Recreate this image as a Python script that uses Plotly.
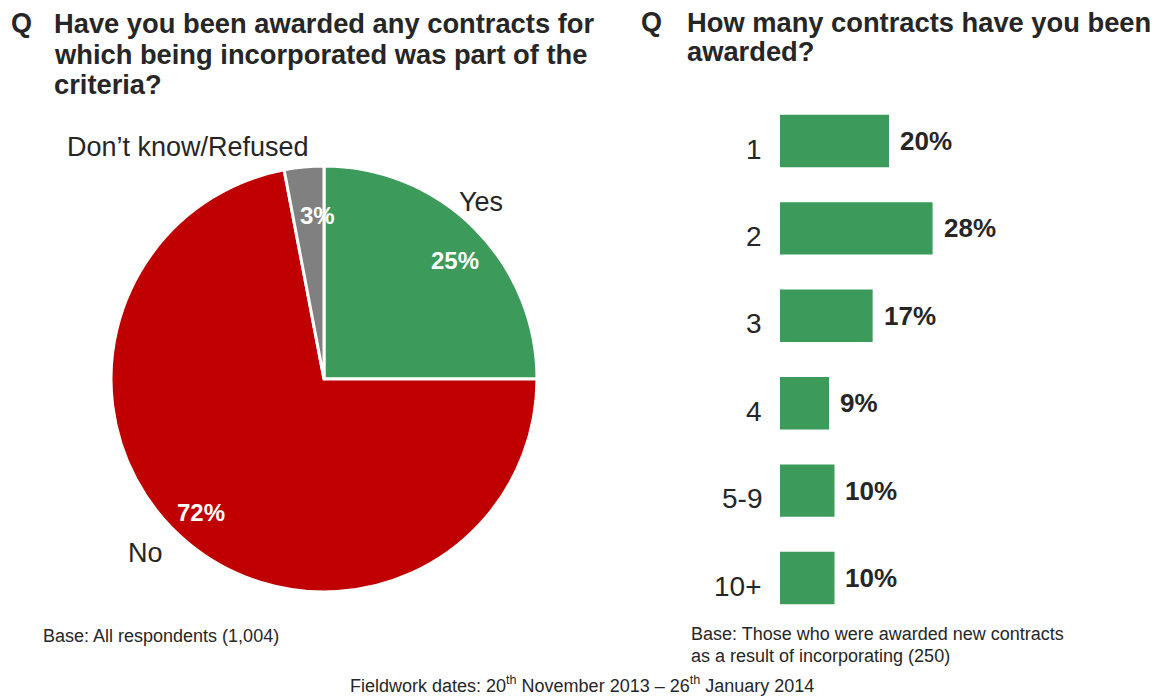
import math
import plotly.graph_objects as go

W, H = 1158, 697
FONT = "Liberation Sans, Arial, sans-serif"
DARK = "#262626"

# Pie: awarded contracts where incorporation was a criterion
pie_labels = ["Yes", "No", "Don\u2019t know/Refused"]
pie_values = [25, 72, 3]
pie_colors = ["#3C9A5A", "#C00000", "#808080"]

# Bars: number of contracts awarded
bar_categories = ["1", "2", "3", "4", "5-9", "10+"]
bar_values = [20, 28, 17, 9, 10, 10]
bar_color = "#3C9A5A"


def px(x):
    return x / W


def py(y):
    return 1 - y / H


fig = go.Figure()

# pie geometry (pixels)
cx, cy, r = 324, 379, 213
fig.add_trace(go.Pie(
    labels=pie_labels,
    values=pie_values,
    sort=False,
    direction="clockwise",
    rotation=0,
    marker=dict(colors=pie_colors, line=dict(color="white", width=3)),
    textinfo="none",
    hoverinfo="label+percent",
    showlegend=False,
    domain=dict(x=[px(cx - r), px(cx + r)], y=[py(cy + r), py(cy - r)]),
))

# percentage labels placed near the middle angle of each slice
total = sum(pie_values)
start = 0.0
label_radius = [0.83, 0.85, 0.77]
for val, rr in zip(pie_values, label_radius):
    mid = ((start + val / 2) / total * 360 + 3) * math.pi / 180
    start += val
    lx = cx + math.sin(mid) * r * rr
    ly = cy - math.cos(mid) * r * rr
    fig.add_annotation(
        x=px(lx), y=py(ly), xref="paper", yref="paper",
        text=f"<b>{val}%</b>", showarrow=False,
        font=dict(family=FONT, size=24, color="white"),
        xanchor="center", yanchor="middle",
    )

# outside slice names
for name, (lx, ly) in zip(pie_labels, [(481, 202), (145, 553), (188, 147)]):
    fig.add_annotation(
        x=px(lx), y=py(ly), xref="paper", yref="paper",
        text=name, showarrow=False,
        font=dict(family=FONT, size=27, color=DARK),
        xanchor="center", yanchor="middle",
    )

# horizontal bars
fig.add_trace(go.Bar(
    x=bar_values,
    y=bar_categories,
    orientation="h",
    marker=dict(color=bar_color, line=dict(width=0)),
    width=0.6,
    hoverinfo="x+y",
    showlegend=False,
    xaxis="x", yaxis="y",
))

# category names to the left of the bars and values to the right
for idx, (cat, val) in enumerate(zip(bar_categories, bar_values)):
    fig.add_annotation(
        x=0, y=idx, xref="x", yref="y",
        text=cat, showarrow=False,
        font=dict(family=FONT, size=28, color=DARK),
        xanchor="right", yanchor="middle",
        xshift=-16, yshift=-8,
    )
    fig.add_annotation(
        x=val, y=idx, xref="x", yref="y",
        text=f"<b>{val}%</b>", showarrow=False,
        font=dict(family=FONT, size=26, color=DARK),
        xanchor="left", yanchor="middle",
        xshift=9,
    )

fig.update_layout(
    width=W, height=H,
    margin=dict(l=0, r=0, t=0, b=0),
    paper_bgcolor="white",
    plot_bgcolor="white",
    font=dict(family=FONT, color=DARK),
    xaxis=dict(
        domain=[px(780), px(780 + 5.45 * 40)],
        range=[0, 40],
        visible=False,
        fixedrange=True,
    ),
    yaxis=dict(
        domain=[py(621.7), py(97.3)],
        range=[5.5, -0.5],
        type="category",
        categoryorder="array",
        categoryarray=bar_categories,
        visible=False,
        fixedrange=True,
    ),
    bargap=0.4,
)

# question headings
title_rows = [
    (9, 52, [23.5, 54, 84.5], ["Have you been awarded any contracts for",
                               "which being incorporated was part of the",
                               "criteria?"]),
    (639, 685, [22.5, 52], ["How many contracts have you been",
                            "awarded?"]),
]
for qx, tx, ys, lines in title_rows:
    fig.add_annotation(
        x=px(qx), y=py(ys[0]), xref="paper", yref="paper",
        text="<b>Q</b>", showarrow=False,
        font=dict(family=FONT, size=27, color=DARK),
        xanchor="left", yanchor="middle",
    )
    for ly, line in zip(ys, lines):
        fig.add_annotation(
            x=px(tx), y=py(ly), xref="paper", yref="paper",
            text=f"<b>{line}</b>", showarrow=False,
            font=dict(family=FONT, size=27.3, color=DARK),
            xanchor="left", yanchor="middle",
        )

# base notes
notes = [
    (41, 636, "Base: All respondents (1,004)"),
    (689, 634, "Base: Those who were awarded new contracts"),
    (689, 656, "as a result of incorporating (250)"),
]
for nx, ny, txt in notes:
    fig.add_annotation(
        x=px(nx), y=py(ny), xref="paper", yref="paper",
        text=txt, showarrow=False,
        font=dict(family=FONT, size=18, color=DARK),
        xanchor="left", yanchor="middle",
    )

fig.add_annotation(
    x=px(582), y=0, xref="paper", yref="paper",
    text="Fieldwork dates: 20<sup>th</sup> November 2013 \u2013 26<sup>th</sup> January 2014",
    showarrow=False,
    font=dict(family=FONT, size=18, color=DARK),
    xanchor="center", yanchor="bottom", borderpad=0,
)

fig.write_html("out.html")
